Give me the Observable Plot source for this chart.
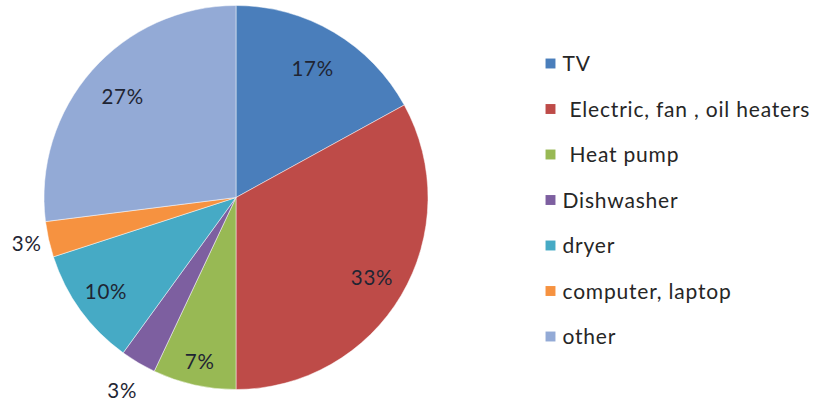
<!DOCTYPE html>
<html>
<head>
<meta charset="utf-8">
<script src="https://cdn.jsdelivr.net/npm/d3@7"></script>
<script src="https://cdn.jsdelivr.net/npm/@observablehq/plot@0.6"></script>
<style>
  html, body { margin: 0; padding: 0; background: #fff; }
  svg { display: block; }
</style>
</head>
<body>
<div id="chart"></div>
<script>
// ---- data ----
const categories = ["TV", "Electric, fan , oil heaters", "Heat pump", "Dishwasher", "dryer", "computer, laptop", "other"];
const values = [17, 33, 7, 3, 10, 3, 27];
const labels = ["17%", "33%", "7%", "3%", "10%", "3%", "27%"];
const colors = ["#4A7EBB", "#BE4B48", "#98B954", "#7D5FA0", "#46AAC5", "#F69240", "#93AAD6"];
// label placement (fraction of radius, Excel "best fit")
const labelRadius = [0.78, 0.82, 0.88, 1.17, 0.84, 1.12, 0.79];
// legend extra indent (entries that begin with a space)
const legendIndent = [0, 7, 7, 0, 0, 0, 0];

// ---- layout ----
const W = 816, H = 407;
const cx = 236, cy = 197.5, R = 192;

const pie = d3.pie().sort(null).value(d => d.value);
const slices = pie(categories.map((c, i) => ({name: c, value: values[i], color: colors[i], i})));

const labelData = slices.map((s, i) => {
  const a = (s.startAngle + s.endAngle) / 2;
  return {x: labelRadius[i] * Math.sin(a), y: labelRadius[i] * Math.cos(a), text: labels[i]};
});

// legend rows, in unit coordinates
const legX = (550 - cx) / R;
const legData = categories.map((c, i) => ({
  x: legX,
  y: (cy - (63 + i * 45.5)) / R,
  name: c, color: colors[i], indent: legendIndent[i]
}));

function pieMark(index, scales) {
  const x0 = scales.x(0), y0 = scales.y(0);
  const r = scales.x(1) - scales.x(0);
  const arc = d3.arc().innerRadius(0).outerRadius(r);
  const g = d3.create("svg:g").attr("transform", `translate(${x0},${y0})`);
  g.selectAll("path").data(slices).join("path")
    .attr("d", arc)
    .attr("fill", d => d.data.color)
    .attr("stroke", "#ffffff")
    .attr("stroke-opacity", 0.6)
    .attr("stroke-width", 0.8);
  return g.node();
}

const chart = Plot.plot({
  width: W, height: H,
  margin: 0,
  x: {domain: [-cx / R, (W - cx) / R], range: [0, W], axis: null},
  y: {domain: [-(H - cy) / R, cy / R], range: [H, 0], axis: null},
  style: {fontFamily: "Lato, 'Open Sans', sans-serif", background: "#fff"},
  marks: [
    pieMark,
    Plot.text(labelData, {x: "x", y: "y", text: "text", fontSize: 20.5, fill: "#1f2533"}),
    Plot.dot(legData, {x: "x", y: "y", symbol: "square", r: 5.6, fill: "color", stroke: "none"}),
    ...[0, 7].map(ind => Plot.text(legData.filter(d => d.indent === ind),
      {x: "x", y: "y", text: "name", textAnchor: "start", dx: 12 + ind, dy: 1, fontSize: 21, fill: "#262626"}))
  ]
});
document.getElementById("chart").appendChild(chart);
d3.select(chart).selectAll("text").style("letter-spacing", "0.8px");
</script>
</body>
</html>
